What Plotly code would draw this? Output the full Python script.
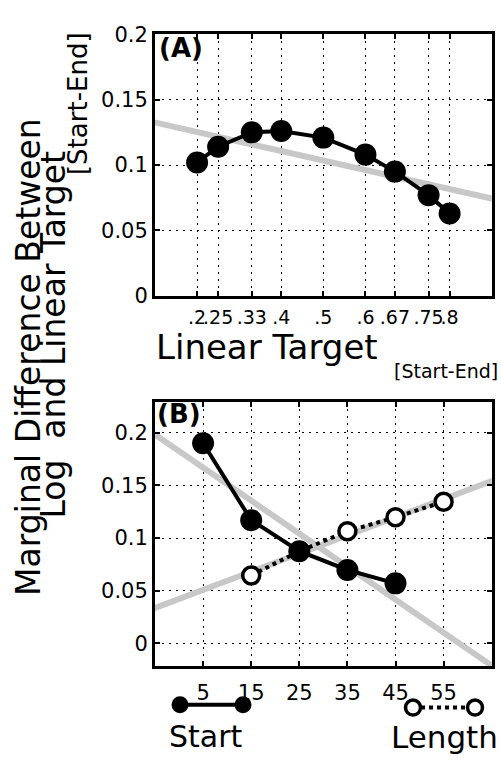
import numpy as np
import plotly.graph_objects as go

W, H = 501, 768

# ---- Panel (A): marginal difference vs. linear target ----
lin_target = [0.2, 0.25, 0.33, 0.4, 0.5, 0.6, 0.67, 0.75, 0.8]
lin_target_labels = [".2", ".25", ".33", ".4", ".5", ".6", ".67", ".75", ".8"]
diff_a = [0.102, 0.114, 0.125, 0.126, 0.121, 0.108, 0.095, 0.077, 0.063]

# ---- Panel (B): by start position and by length ----
start_x = [5, 15, 25, 35, 45]
start_y = [0.190, 0.117, 0.0875, 0.0697, 0.057]
length_x = [15, 25, 35, 45, 55]
length_y = [0.0645, 0.0875, 0.1065, 0.1197, 0.1345]
b_ticks = [5, 15, 25, 35, 45, 55]

y_ticks = [0, 0.05, 0.1, 0.15, 0.2]
y_tick_labels = ["0", "0.05", "0.1", "0.15", "0.2"]

GRAY = "#c8c8c8"
FONT = "DejaVu Sans"


def px(x):
    return x / W


def py(y):
    return 1 - y / H


def fit_line(x, y, lo, hi):
    slope, icpt = np.polyfit(x, y, 1)
    xs = [lo, hi]
    return xs, [icpt + slope * v for v in xs]


fig = go.Figure()

# (A) regression line + data
fx, fy = fit_line(lin_target, diff_a, 0.0, 1.0)
fig.add_trace(go.Scatter(x=fx, y=fy, mode="lines", line=dict(color=GRAY, width=6),
                         xaxis="x", yaxis="y", hoverinfo="skip"))
fig.add_trace(go.Scatter(x=lin_target, y=diff_a, mode="lines+markers",
                         line=dict(color="black", width=4),
                         marker=dict(size=22, color="black"),
                         xaxis="x", yaxis="y"))

# (B) regression lines
sx, sy = fit_line(start_x, start_y, -10, 70)
lx, ly = fit_line(length_x, length_y, -10, 70)
for xs, ys in ((sx, sy), (lx, ly)):
    fig.add_trace(go.Scatter(x=xs, y=ys, mode="lines", line=dict(color=GRAY, width=6),
                             xaxis="x2", yaxis="y2", hoverinfo="skip"))

length_marker = dict(size=17, color="white", line=dict(color="black", width=3.5))
start_marker = dict(size=22, color="black")

fig.add_trace(go.Scatter(x=length_x, y=length_y, mode="lines+markers", name="Length",
                         line=dict(color="black", width=4, dash="dot"),
                         marker=length_marker, xaxis="x2", yaxis="y2"))
fig.add_trace(go.Scatter(x=start_x, y=start_y, mode="lines+markers", name="Start",
                         line=dict(color="black", width=4),
                         marker=start_marker, xaxis="x2", yaxis="y2"))

# key samples below panel (B), drawn on a pixel-unit strip axis
fig.add_trace(go.Scatter(x=[180, 243], y=[715, 715], mode="lines+markers",
                         line=dict(color="black", width=4),
                         marker=dict(size=17, color="black"),
                         xaxis="x3", yaxis="y3", hoverinfo="skip"))
fig.add_trace(go.Scatter(x=[413, 475], y=[718, 718], mode="lines+markers",
                         line=dict(color="black", width=4, dash="dot"),
                         marker=dict(size=15, color="white", line=dict(color="black", width=3.5)),
                         xaxis="x3", yaxis="y3", hoverinfo="skip"))

axis_style = dict(
    showline=True, linewidth=3, linecolor="black", mirror="allticks",
    ticks="inside", ticklen=5, tickwidth=1.5, tickcolor="black",
    showgrid=True, gridcolor="black", gridwidth=1, griddash="2px,5px",
    zeroline=False, fixedrange=True,
    tickfont=dict(family=FONT, size=21, color="black"),
)

xdom = [px(155), px(491.7)]
KEY_TOP = 700

fig.update_layout(
    width=W, height=H,
    margin=dict(l=0, r=0, t=0, b=0),
    paper_bgcolor="white", plot_bgcolor="rgba(0,0,0,0)",
    showlegend=False,
    xaxis=dict(axis_style, domain=xdom, range=[0.1, 0.9], anchor="y",
               tickvals=lin_target, ticktext=lin_target_labels, tickangle=0,
               ticklabelstandoff=2, tickfont=dict(family=FONT, size=19, color="black")),
    yaxis=dict(axis_style, domain=[py(293), py(23)], range=[0, 0.2], anchor="x",
               tickvals=y_ticks, ticktext=y_tick_labels),
    xaxis2=dict(axis_style, domain=xdom, range=[-5, 65], anchor="y2",
                tickvals=b_ticks, tickangle=0, ticklabelstandoff=6),
    yaxis2=dict(axis_style, domain=[py(675), py(402.5)], range=[-0.0214, 0.2293],
                anchor="x2", tickvals=y_ticks, ticktext=y_tick_labels),
    xaxis3=dict(domain=[0, 1], range=[0, W], visible=False, anchor="y3", fixedrange=True),
    yaxis3=dict(domain=[0, py(KEY_TOP)], range=[H, KEY_TOP], visible=False, anchor="x3",
                fixedrange=True),
)

anns = [
    dict(text="<b>(A)</b>", x=px(157), y=py(37), xanchor="left", yanchor="middle",
         font=dict(family=FONT, size=26)),
    dict(text="<b>(B)</b>", x=px(155), y=py(415), xanchor="left", yanchor="middle",
         font=dict(family=FONT, size=26)),
    dict(text="Linear Target", x=px(267), y=py(346), xanchor="center", yanchor="middle",
         font=dict(family=FONT, size=34)),
    dict(text="[Start-End]", x=px(392), y=py(371), xanchor="left", yanchor="middle",
         font=dict(family=FONT, size=19)),
    dict(text="Marginal Difference Between", x=px(29), y=py(356), textangle=-90,
         xanchor="center", yanchor="middle", font=dict(family=FONT, size=33)),
    dict(text="Log\u00a0\u00a0and Linear Target", x=px(54), y=py(333), textangle=-90,
         xanchor="center", yanchor="middle", font=dict(family=FONT, size=33)),
    dict(text="[Start-End]", x=px(78), y=py(95), textangle=-90,
         xanchor="center", yanchor="middle", font=dict(family=FONT, size=26)),
    dict(text="Start", x=px(206), y=py(748), xanchor="center", yanchor="middle",
         font=dict(family=FONT, size=30)),
    dict(text="Length", x=px(444), y=py(748), xanchor="center", yanchor="middle",
         font=dict(family=FONT, size=31)),
]
for a in anns:
    a.update(xref="paper", yref="paper", showarrow=False)
    a["font"]["color"] = "black"
fig.update_layout(annotations=anns)

fig.write_html("out.html")
